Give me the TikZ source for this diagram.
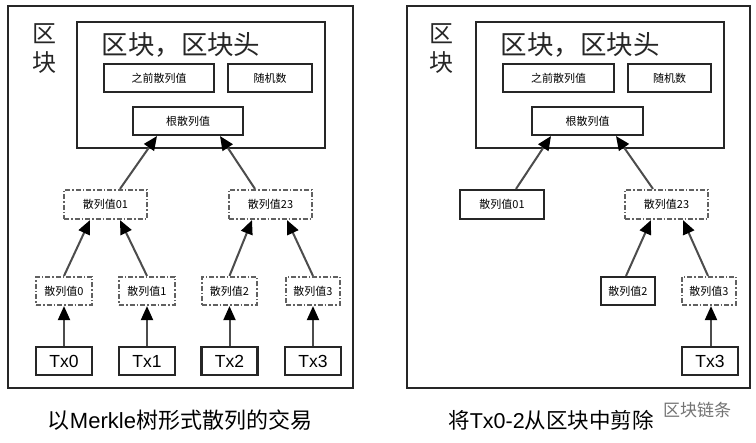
\documentclass[tikz,border=0pt]{standalone}
\usepackage{fontspec}
\setmainfont{Liberation Sans}
\newfontfamily\cjk{Noto Sans CJK SC}
\usetikzlibrary{arrows.meta,calc}
\tikzset{
  frame/.style={draw=black!85, line width=2.2pt, rectangle, inner sep=0pt},
  sbox/.style={draw=black!85, line width=2.1pt, rectangle, inner sep=0pt, minimum height=28pt, font=\cjk\fontsize{11}{12}\selectfont},
  dbox/.style={draw=black!62, line width=2.2pt, rectangle, inner sep=0pt, minimum height=29pt,
    dash pattern=on 5pt off 2pt on 1.5pt off 2pt, font=\cjk\fontsize{11}{12}\selectfont},
  txbox/.style={draw=black!85, line width=2.1pt, rectangle, inner sep=0pt, minimum width=56pt, minimum height=28pt, font=\fontsize{17.5}{18}\selectfont},
  arr/.style={draw=black!70, line width=2pt, -{Triangle[length=14pt,width=12pt,color=black]}},
  captxt/.style={font=\cjk\fontsize{22}{24}\selectfont, inner sep=0pt},
  big/.style={font=\cjk\fontsize{26.5}{28}\selectfont, inner sep=0pt, text=black!85},
}
\begin{document}
\begin{tikzpicture}[x=1pt,y=-1pt]
\useasboundingbox (0,0) rectangle (756,443);
\fill[white] (0,0) rectangle (756,443);
% ===== Left panel =====
\node[frame, minimum width=345pt, minimum height=382pt] (Lout) at (180.5,197) {};
\node[big, align=center, font=\cjk\fontsize{24}{29}\selectfont] (Lblk) at (44,49) {区\\块};
\node[frame, minimum width=248pt, minimum height=126pt] (Lhdr) at (201,85) {};
\node[big] (Ltitle) at (181,45) {区块，区块头};
\node[sbox, minimum width=110pt] (Lprev) at (159,78) {之前散列值};
\node[sbox, minimum width=84pt] (Lnonce) at (270,78) {随机数};
\node[sbox, minimum width=110pt] (Lroot) at (188,121) {根散列值};
\node[dbox, minimum width=83pt] (Lh01) at (105.5,204.5) {散列值01};
\node[dbox, minimum width=83pt] (Lh23) at (270.5,204.5) {散列值23};
\node[dbox, minimum width=56pt, minimum height=28pt] (Lh0) at (64,291) {散列值0};
\node[dbox, minimum width=56pt, minimum height=28pt] (Lh1) at (147,291) {散列值1};
\node[dbox, minimum width=55pt, minimum height=28pt] (Lh2) at (229.5,291) {散列值2};
\node[dbox, minimum width=54pt, minimum height=28pt] (Lh3) at (313,291) {散列值3};
\node[txbox] (Ltx0) at (64,361) {Tx0};
\node[txbox] (Ltx1) at (147,361) {Tx1};
\node[txbox] (Ltx2) at (229.5,361) {Tx2};
\node[txbox] (Ltx3) at (313,361) {Tx3};
\draw[arr] (Ltx0) -- (Lh0);
\draw[arr] (Ltx1) -- (Lh1);
\draw[arr] (Ltx2) -- (Lh2);
\draw[arr] (Ltx3) -- (Lh3);
\draw[arr] (Lh0.north) -- ($(Lh01.south)+(-15.5,0)$);
\draw[arr] (Lh1.north) -- ($(Lh01.south)+(14.5,0)$);
\draw[arr] (Lh2.north) -- ($(Lh23.south)+(-18.5,0)$);
\draw[arr] (Lh3.north) -- ($(Lh23.south)+(16.5,0)$);
\draw[arr] ($(Lh01.north)+(14.5,0)$) -- ($(Lroot.south)+(-31,0)$);
\draw[arr] ($(Lh23.north)+(-15.5,0)$) -- ($(Lroot.south)+(32,0)$);
\node[captxt] (Lcap) at (180,420) {以{\fontspec{Liberation Sans}Merkle}树形式散列的交易};
% ===== Right panel =====
\node[frame, minimum width=343pt, minimum height=382pt] (Rout) at (578.5,197) {};
\node[big, align=center, font=\cjk\fontsize{24}{29}\selectfont] (Rblk) at (441,49) {区\\块};
\node[frame, minimum width=248pt, minimum height=126pt] (Rhdr) at (600,85) {};
\node[big] (Rtitle) at (580,45) {区块，区块头};
\node[sbox, minimum width=111pt] (Rprev) at (558.5,78) {之前散列值};
\node[sbox, minimum width=83pt] (Rnonce) at (669.5,78) {随机数};
\node[sbox, minimum width=111pt] (Rroot) at (587.5,121) {根散列值};
\node[sbox, minimum width=84pt, minimum height=29pt] (Rh01) at (502,204.5) {散列值01};
\node[dbox, minimum width=83pt] (Rh23) at (666.5,204.5) {散列值23};
\node[sbox, minimum width=54pt] (Rh2) at (628,291) {散列值2};
\node[dbox, minimum width=54pt, minimum height=28pt] (Rh3) at (709,291) {散列值3};
\node[txbox] (Rtx3) at (710,361) {Tx3};
\draw[arr] ($(Rtx3.north)+(1,0)$) -- ($(Rh3.south)+(2,0)$);
\draw[arr] ($(Rh2.north)+(-2,0)$) -- ($(Rh23.south)+(-15.5,0)$);
\draw[arr] ($(Rh3.north)+(-1,0)$) -- ($(Rh23.south)+(16.5,0)$);
\draw[arr] ($(Rh01.north)+(14,0)$) -- ($(Rroot.south)+(-36.5,0)$);
\draw[arr] ($(Rh23.north)+(-13.5,0)$) -- ($(Rroot.south)+(28.5,0)$);
\node[captxt, font=\cjk\fontsize{21.5}{24}\selectfont] (Rcap) at (551,420) {将{\fontspec{Liberation Sans}Tx0-2}从区块中剪除};
\node[font=\cjk\fontsize{17}{18}\selectfont, text=black!55, inner sep=0pt] (wm) at (697,410) {区块链条};
\end{tikzpicture}
\end{document}
